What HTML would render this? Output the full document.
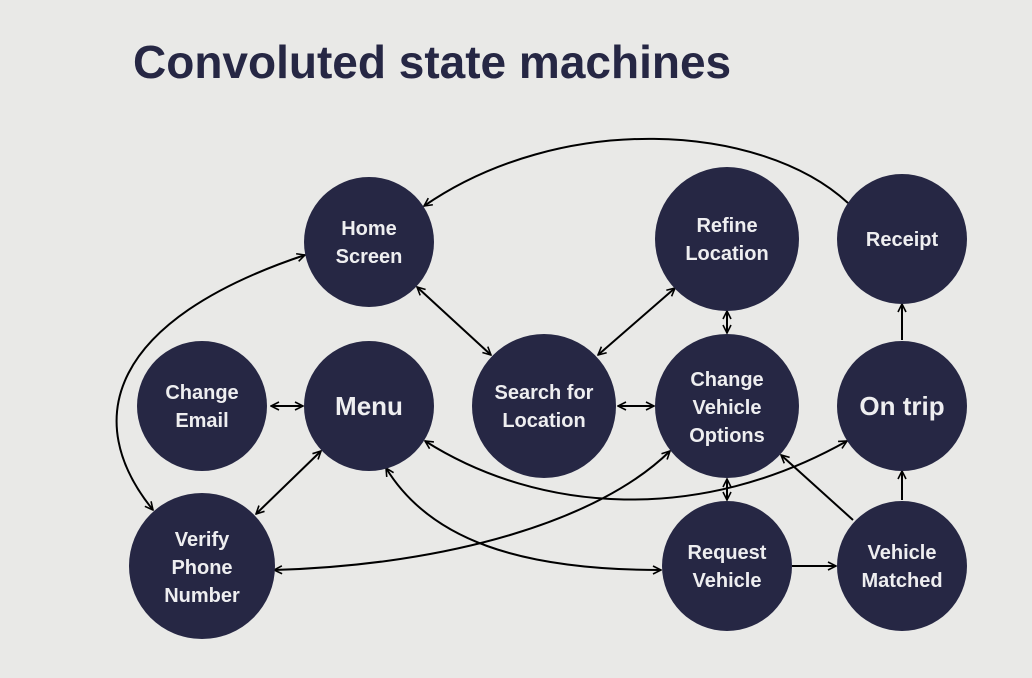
<!DOCTYPE html>
<html><head><meta charset="utf-8"><style>
html,body{margin:0;padding:0;background:#e9e9e7;}
svg{display:block;}
text{font-family:"Liberation Sans",sans-serif;font-weight:bold;fill:#eeeef0;text-anchor:middle;}
</style></head><body>
<svg width="1032" height="678" viewBox="0 0 1032 678" xmlns="http://www.w3.org/2000/svg">
<defs>
<marker id="a" viewBox="0 0 10 10" refX="9" refY="5" markerWidth="10" markerHeight="10" markerUnits="userSpaceOnUse" orient="auto-start-reverse">
<path d="M1,1 L9,5 L1,9" fill="none" stroke="#000" stroke-width="1.6"/>
</marker>
</defs>
<text x="133" y="78" style="font-size:46px;fill:#262744;text-anchor:start">Convoluted state machines</text>
<g fill="none" stroke="#000" stroke-width="2">
<path d="M848,203 C760,122 560,112 424,206" marker-end="url(#a)"/>
<path d="M417,287 L491,355" marker-start="url(#a)" marker-end="url(#a)"/>
<path d="M305,255 C110,320 80,420 153,510" marker-start="url(#a)" marker-end="url(#a)"/>
<path d="M271,406 L303,406" marker-start="url(#a)" marker-end="url(#a)"/>
<path d="M321,451 L256,514" marker-start="url(#a)" marker-end="url(#a)"/>
<path d="M598,355 L675,288" marker-start="url(#a)" marker-end="url(#a)"/>
<path d="M618,406 L654,406" marker-start="url(#a)" marker-end="url(#a)"/>
<path d="M727,311 L727,333" marker-start="url(#a)" marker-end="url(#a)"/>
<path d="M727,479 L727,500" marker-start="url(#a)" marker-end="url(#a)"/>
<path d="M425,441 C540,514 700,524 847,441" marker-start="url(#a)" marker-end="url(#a)"/>
<path d="M386,468 C430,540 520,570 661,570" marker-start="url(#a)" marker-end="url(#a)"/>
<path d="M274,570 C450,565 600,520 670,451" marker-start="url(#a)" marker-end="url(#a)"/>
<path d="M792,566 L836,566" marker-end="url(#a)"/>
<path d="M853,520 L781,455" marker-end="url(#a)"/>
<path d="M902,500 L902,471" marker-end="url(#a)"/>
<path d="M902,340 L902,304" marker-end="url(#a)"/>
</g>
<g fill="#262744">
<circle cx="369" cy="242" r="65"/>
<circle cx="727" cy="239" r="72"/>
<circle cx="902" cy="239" r="65"/>
<circle cx="202" cy="406" r="65"/>
<circle cx="369" cy="406" r="65"/>
<circle cx="544" cy="406" r="72"/>
<circle cx="727" cy="406" r="72"/>
<circle cx="902" cy="406" r="65"/>
<circle cx="202" cy="566" r="73"/>
<circle cx="727" cy="566" r="65"/>
<circle cx="902" cy="566" r="65"/>
</g>
<g style="font-size:20px">
<text x="369" y="235">Home</text><text x="369" y="263">Screen</text>
<text x="727" y="232">Refine</text><text x="727" y="260">Location</text>
<text x="902" y="246">Receipt</text>
<text x="202" y="399">Change</text><text x="202" y="427">Email</text>
<text x="544" y="399">Search for</text><text x="544" y="427">Location</text>
<text x="727" y="386">Change</text><text x="727" y="414">Vehicle</text><text x="727" y="442">Options</text>
<text x="202" y="546">Verify</text><text x="202" y="574">Phone</text><text x="202" y="602">Number</text>
<text x="727" y="559">Request</text><text x="727" y="587">Vehicle</text>
<text x="902" y="559">Vehicle</text><text x="902" y="587">Matched</text>
</g>
<text x="369" y="415" style="font-size:26px">Menu</text>
<text x="902" y="415" style="font-size:26px">On trip</text>
</svg>
</body></html>
